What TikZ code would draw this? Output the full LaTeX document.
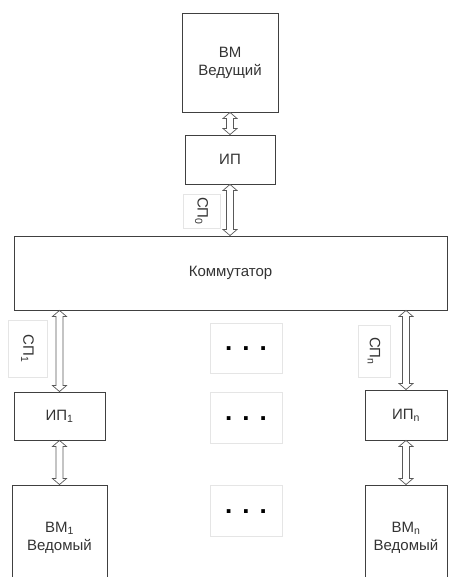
\documentclass[tikz,border=0pt]{standalone}
\usepackage{fontspec}
\setmainfont{Liberation Sans}
\usetikzlibrary{calc}

\begin{document}
\begin{tikzpicture}[x=1pt, y=1pt,
  blok/.style={draw=black!75, line width=0.9pt, inner sep=0pt, align=center, text=black!80, font=\fontsize{15}{18}\selectfont},
  metka/.style={draw=black!10, line width=0.6pt, inner sep=0pt, text=black!80, font=\fontsize{15}{18}\selectfont},
  tochki/.style={draw=black!10, line width=0.6pt, minimum width=72, inner sep=0pt, font=\fontsize{26}{26}\bfseries},
  shina/.style={draw=black!65, line width=0.7pt, fill=white, line join=miter,
    to path={let \p1=(\tikztostart), \p2=(\tikztotarget) in
      (\x1,\y1) -- (\x1+7,\y1-6) -- (\x1+3.5,\y1-6) -- (\x1+3.5,\y2+6) -- (\x1+7,\y2+6)
      -- (\x1,\y2) -- (\x1-7,\y2+6) -- (\x1-3.5,\y2+6) -- (\x1-3.5,\y1-6) -- (\x1-7,\y1-6) -- cycle}}]
\useasboundingbox (0,0) rectangle (448,577);
\node[blok, minimum width=96, minimum height=99] (vm0) at (230,514.5) {ВМ\\Ведущий};
\node[blok, minimum width=90, minimum height=49] (ip0) at (230,417.5) {ИП};
\node[metka, minimum width=37, minimum height=34] (sp0) at (201.5,366) {\rotatebox{-90}{СП\textsubscript{0}}};
\node[blok, minimum width=433, minimum height=74] (komm) at (230.5,304) {Коммутатор};
\node[metka, minimum width=39, minimum height=57] (sp1) at (27.5,228.5) {\rotatebox{-90}{СП\textsubscript{1}}};
\node[metka, minimum width=32, minimum height=52] (spn) at (374,226) {\rotatebox{-90}{СП\textsubscript{n}}};
\node[blok, minimum width=91, minimum height=48] (ip1) at (59.5,161) {ИП\textsubscript{1}};
\node[blok, minimum width=82, minimum height=50] (ipn) at (406,162) {ИП\textsubscript{n}};
\node[blok, minimum width=95, minimum height=105] (vm1) at (59.5,39.5) {ВМ\textsubscript{1}\\Ведомый};
\node[blok, minimum width=82, minimum height=105] (vmn) at (406,39.5) {ВМ\textsubscript{n}\\Ведомый};
\node[tochki, minimum height=50] (t1) at (246,229) {\raisebox{-6pt}{.\hspace{10pt}.\hspace{10pt}.}};
\node[tochki, minimum height=51] (t2) at (246,159.5) {\raisebox{-6pt}{.\hspace{10pt}.\hspace{10pt}.}};
\node[tochki, minimum height=51] (t3) at (246,66.5) {\raisebox{-6pt}{.\hspace{10pt}.\hspace{10pt}.}};
\draw[shina] (vm0.south) to (ip0.north);
\draw[shina] (ip0.south) to (ip0.south |- komm.north);
\draw[shina] (ip1.north |- komm.south) to (ip1.north);
\draw[shina] (ipn.north |- komm.south) to (ipn.north);
\draw[shina] (ip1.south) to (vm1.north);
\draw[shina] (ipn.south) to (vmn.north);
\end{tikzpicture}
\end{document}
